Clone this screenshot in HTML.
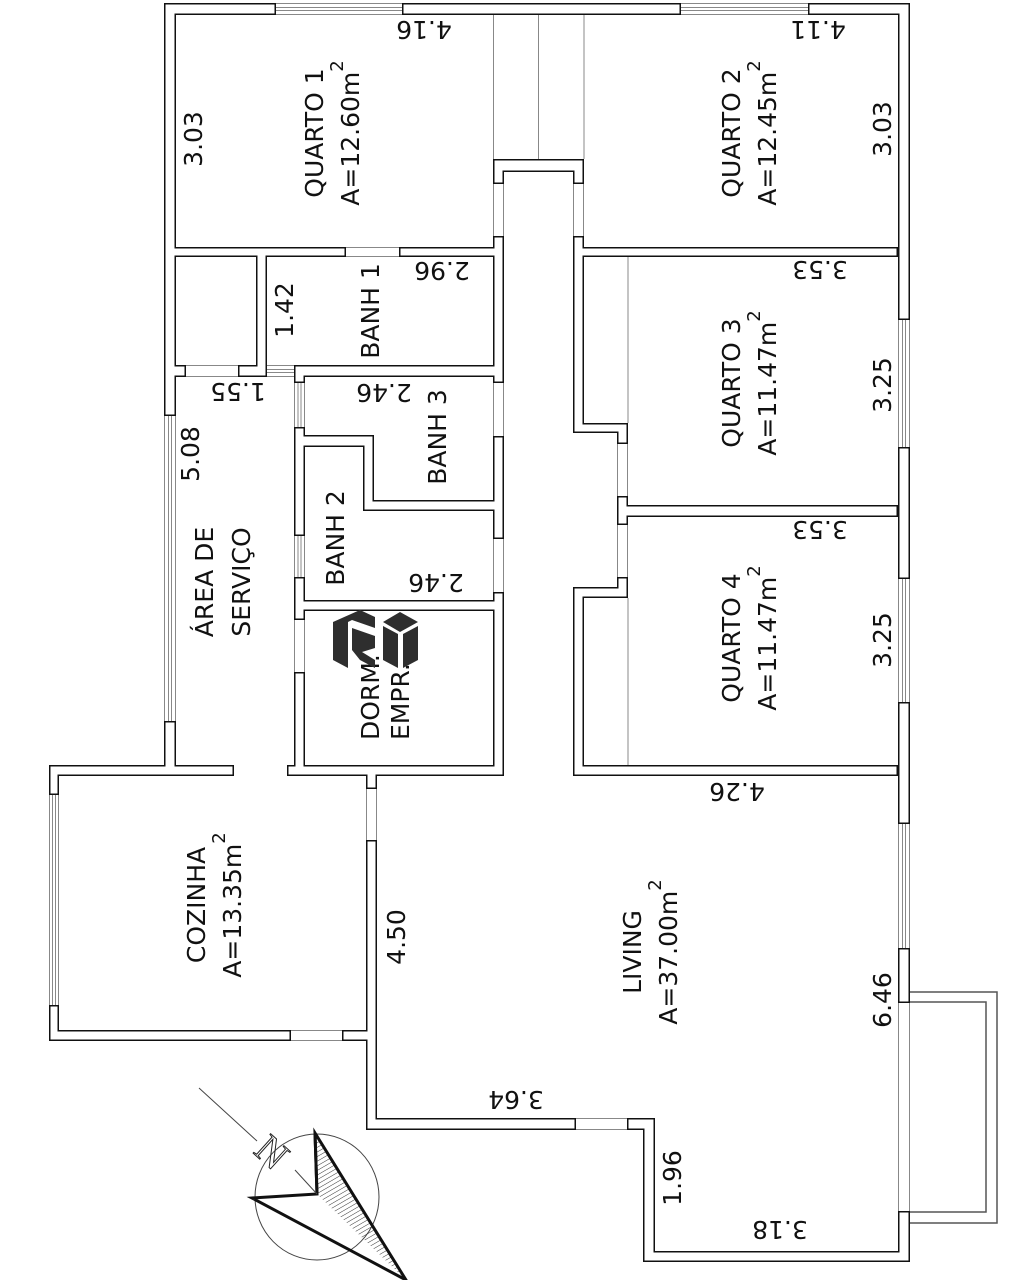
<!DOCTYPE html>
<html><head><meta charset="utf-8"><style>
html,body{margin:0;padding:0;background:#fff;}
svg{display:block}
text{font-family:"DejaVu Sans","Liberation Sans",sans-serif;font-size:25px;fill:#111}
</style></head><body>
<svg width="1024" height="1280" viewBox="0 0 1024 1280" xmlns="http://www.w3.org/2000/svg">
<defs>
<pattern id="hatch" width="4" height="4" patternUnits="userSpaceOnUse" patternTransform="rotate(60)">
<line x1="0" y1="0" x2="0" y2="4" stroke="#333" stroke-width="1"/>
</pattern>
</defs>
<rect width="1024" height="1280" fill="#fff"/>
<g stroke="#888" stroke-width="1" fill="none">
<line x1="493.5" y1="15" x2="493.5" y2="159"/>
<line x1="538.5" y1="15" x2="538.5" y2="159"/>
<line x1="584" y1="15" x2="584" y2="159"/>
<line x1="628" y1="257" x2="628" y2="423"/>
<line x1="628" y1="598" x2="628" y2="765"/>
<path d="M164.5 416V721M175.5 416V721M168.5 416V721M171.5 416V721"/>
<path d="M898.5 320V447M909.5 320V447M902.5 320V447M905.5 320V447"/>
<path d="M898.5 579V702M909.5 579V702M902.5 579V702M905.5 579V702"/>
<path d="M898.5 824V948M909.5 824V948M902.5 824V948M905.5 824V948"/>
<path d="M49.5 795V1005M58.5 795V1005M52.5 795V1005M55.5 795V1005"/>
<path d="M294.5 383V427M304.5 383V427M298 383V427M301 383V427"/>
<path d="M294.5 536V577M304.5 536V577M298 536V577M301 536V577"/>
<path d="M276 3.5H402M276 14.5H402M276 7.5H402M276 10.5H402"/>
<path d="M681 3.5H808M681 14.5H808M681 7.5H808M681 10.5H808"/>
<path d="M267 365.5H294M267 376.5H294M267 369.5H294M267 372.5H294"/>
<path d="M294.5 620V672M304.5 620V672"/>
<path d="M898.5 1003V1211M909.5 1003V1211"/>
<path d="M366.5 789V840M376.5 789V840"/>
<path d="M493.5 184V236M503.5 184V236M493.5 383V436M503.5 383V436M493.5 539V592M503.5 539V592"/>
<path d="M573.5 184V236M583.5 184V236"/>
<path d="M617.5 444V496M627.5 444V496M617.5 525V577M627.5 525V577"/>
<path d="M291 1030.5H342M291 1040.5H342"/>
<path d="M576 1118.5H627M576 1129.5H627"/>
<path d="M346 247.5H399M346 256.5H399"/>
<path d="M186 365.5H238M186 376.5H238"/>
</g>
<g stroke="#555" stroke-width="1.5" fill="none">
<path d="M909 992H997V1223H909"/>
<path d="M909 1002H986V1212H909"/>
</g>
<g fill="#111">
<rect x="164" y="3" width="12" height="413"/>
<rect x="164" y="3" width="112" height="12"/>
<rect x="402" y="3" width="279" height="12"/>
<rect x="808" y="3" width="102" height="12"/>
<rect x="898" y="3" width="12" height="317"/>
<rect x="898" y="447" width="12" height="132"/>
<rect x="898" y="702" width="12" height="122"/>
<rect x="898" y="948" width="12" height="55"/>
<rect x="898" y="1211" width="12" height="51"/>
<rect x="643" y="1251" width="267" height="11"/>
<rect x="643" y="1118" width="12" height="144"/>
<rect x="366" y="1118" width="210" height="12"/>
<rect x="627" y="1118" width="28" height="12"/>
<rect x="366" y="840" width="11" height="290"/>
<rect x="49" y="1030" width="242" height="11"/>
<rect x="342" y="1030" width="35" height="11"/>
<rect x="49" y="765" width="10" height="30"/>
<rect x="49" y="1005" width="10" height="36"/>
<rect x="49" y="765" width="185" height="11"/>
<rect x="164" y="721" width="12" height="55"/>
<rect x="287" y="765" width="217" height="11"/>
<rect x="366" y="765" width="11" height="24"/>
<rect x="294" y="427" width="11" height="109"/>
<rect x="294" y="577" width="11" height="43"/>
<rect x="294" y="672" width="11" height="104"/>
<rect x="294" y="600" width="210" height="11"/>
<rect x="493" y="236" width="11" height="147"/>
<rect x="493" y="436" width="11" height="103"/>
<rect x="493" y="592" width="11" height="184"/>
<rect x="294" y="365" width="210" height="12"/>
<rect x="294" y="365" width="11" height="18"/>
<rect x="294" y="435" width="80" height="12"/>
<rect x="363" y="435" width="11" height="76"/>
<rect x="363" y="500" width="141" height="11"/>
<rect x="164" y="247" width="182" height="10"/>
<rect x="399" y="247" width="105" height="10"/>
<rect x="256" y="247" width="11" height="130"/>
<rect x="164" y="365" width="22" height="12"/>
<rect x="238" y="365" width="29" height="12"/>
<rect x="573" y="247" width="325" height="10"/>
<rect x="573" y="236" width="11" height="197"/>
<rect x="573" y="423" width="55" height="10"/>
<rect x="617" y="423" width="11" height="21"/>
<rect x="617" y="496" width="11" height="29"/>
<rect x="617" y="505" width="281" height="12"/>
<rect x="573" y="587" width="55" height="11"/>
<rect x="617" y="577" width="11" height="21"/>
<rect x="573" y="587" width="11" height="189"/>
<rect x="573" y="765" width="325" height="11"/>
<rect x="493" y="159" width="91" height="13"/>
<rect x="493" y="159" width="11" height="25"/>
<rect x="573" y="159" width="11" height="25"/>
</g>
<g fill="#fff">
<rect x="165.5" y="4.5" width="9" height="410"/>
<rect x="165.5" y="4.5" width="109" height="9"/>
<rect x="403.5" y="4.5" width="276" height="9"/>
<rect x="809.5" y="4.5" width="99" height="9"/>
<rect x="899.5" y="4.5" width="9" height="314"/>
<rect x="899.5" y="448.5" width="9" height="129"/>
<rect x="899.5" y="703.5" width="9" height="119"/>
<rect x="899.5" y="949.5" width="9" height="52"/>
<rect x="899.5" y="1212.5" width="9" height="48"/>
<rect x="644.5" y="1252.5" width="264" height="8"/>
<rect x="644.5" y="1119.5" width="9" height="141"/>
<rect x="367.5" y="1119.5" width="207" height="9"/>
<rect x="628.5" y="1119.5" width="25" height="9"/>
<rect x="367.5" y="841.5" width="8" height="287"/>
<rect x="50.5" y="1031.5" width="239" height="8"/>
<rect x="343.5" y="1031.5" width="32" height="8"/>
<rect x="50.5" y="766.5" width="7" height="27"/>
<rect x="50.5" y="1006.5" width="7" height="33"/>
<rect x="50.5" y="766.5" width="182" height="8"/>
<rect x="165.5" y="722.5" width="9" height="52"/>
<rect x="288.5" y="766.5" width="214" height="8"/>
<rect x="367.5" y="766.5" width="8" height="21"/>
<rect x="295.5" y="428.5" width="8" height="106"/>
<rect x="295.5" y="578.5" width="8" height="40"/>
<rect x="295.5" y="673.5" width="8" height="101"/>
<rect x="295.5" y="601.5" width="207" height="8"/>
<rect x="494.5" y="237.5" width="8" height="144"/>
<rect x="494.5" y="437.5" width="8" height="100"/>
<rect x="494.5" y="593.5" width="8" height="181"/>
<rect x="295.5" y="366.5" width="207" height="9"/>
<rect x="295.5" y="366.5" width="8" height="15"/>
<rect x="295.5" y="436.5" width="77" height="9"/>
<rect x="364.5" y="436.5" width="8" height="73"/>
<rect x="364.5" y="501.5" width="138" height="8"/>
<rect x="165.5" y="248.5" width="179" height="7"/>
<rect x="400.5" y="248.5" width="102" height="7"/>
<rect x="257.5" y="248.5" width="8" height="127"/>
<rect x="165.5" y="366.5" width="19" height="9"/>
<rect x="239.5" y="366.5" width="26" height="9"/>
<rect x="574.5" y="248.5" width="322" height="7"/>
<rect x="574.5" y="237.5" width="8" height="194"/>
<rect x="574.5" y="424.5" width="52" height="7"/>
<rect x="618.5" y="424.5" width="8" height="18"/>
<rect x="618.5" y="497.5" width="8" height="26"/>
<rect x="618.5" y="506.5" width="278" height="9"/>
<rect x="574.5" y="588.5" width="52" height="8"/>
<rect x="618.5" y="578.5" width="8" height="18"/>
<rect x="574.5" y="588.5" width="8" height="186"/>
<rect x="574.5" y="766.5" width="322" height="8"/>
<rect x="494.5" y="160.5" width="88" height="10"/>
<rect x="494.5" y="160.5" width="8" height="22"/>
<rect x="574.5" y="160.5" width="8" height="22"/>
</g>
<g text-anchor="middle">
<g transform="translate(333,133) rotate(-90)"><text x="0" y="-10">QUARTO 1</text><text x="0" y="26">A=12.60m<tspan font-size="18" dy="-16">2</tspan></text></g>
<g transform="translate(750,133) rotate(-90)"><text x="0" y="-10">QUARTO 2</text><text x="0" y="26">A=12.45m<tspan font-size="18" dy="-16">2</tspan></text></g>
<g transform="translate(750,383) rotate(-90)"><text x="0" y="-10">QUARTO 3</text><text x="0" y="26">A=11.47m<tspan font-size="18" dy="-16">2</tspan></text></g>
<g transform="translate(750,638) rotate(-90)"><text x="0" y="-10">QUARTO 4</text><text x="0" y="26">A=11.47m<tspan font-size="18" dy="-16">2</tspan></text></g>
<g transform="translate(215,905) rotate(-90)"><text x="0" y="-10">COZINHA</text><text x="0" y="26">A=13.35m<tspan font-size="18" dy="-16">2</tspan></text></g>
<g transform="translate(651,952) rotate(-90)"><text x="0" y="-10">LIVING</text><text x="0" y="26">A=37.00m<tspan font-size="18" dy="-16">2</tspan></text></g>
<g transform="translate(223,582) rotate(-90)"><text x="0" y="-10">ÁREA DE</text><text x="0" y="27">SERVIÇO</text></g>
<g transform="translate(370,311) rotate(-90)"><text x="0" y="9">BANH 1</text></g>
<g transform="translate(437,437) rotate(-90)"><text x="0" y="9">BANH 3</text></g>
<g transform="translate(335,538) rotate(-90)"><text x="0" y="9">BANH 2</text></g>
</g>
<g transform="translate(370,740) rotate(-90)"><text x="0" y="9">DORM.</text></g>
<g transform="translate(400,740) rotate(-90)"><text x="0" y="9">EMPR.</text></g>
<g text-anchor="middle">
<g transform="translate(193,139) rotate(-90)"><text y="9">3.03</text></g>
<g transform="translate(284,310) rotate(-90)"><text y="9">1.42</text></g>
<g transform="translate(190,454) rotate(-90)"><text y="9">5.08</text></g>
<g transform="translate(882,129) rotate(-90)"><text y="9">3.03</text></g>
<g transform="translate(882,385) rotate(-90)"><text y="9">3.25</text></g>
<g transform="translate(882,640) rotate(-90)"><text y="9">3.25</text></g>
<g transform="translate(396,937) rotate(-90)"><text y="9">4.50</text></g>
<g transform="translate(882,1000) rotate(-90)"><text y="9">6.46</text></g>
<g transform="translate(672,1178) rotate(-90)"><text y="9">1.96</text></g>
<g transform="translate(424,30) rotate(180)"><text y="9">4.16</text></g>
<g transform="translate(442,271) rotate(180)"><text y="9">2.96</text></g>
<g transform="translate(238,392) rotate(180)"><text y="9">1.55</text></g>
<g transform="translate(384,393) rotate(180)"><text y="9">2.46</text></g>
<g transform="translate(436,583) rotate(180)"><text y="9">2.46</text></g>
<g transform="translate(818,30) rotate(180)"><text y="9">4.11</text></g>
<g transform="translate(820,270) rotate(180)"><text y="9">3.53</text></g>
<g transform="translate(820,530) rotate(180)"><text y="9">3.53</text></g>
<g transform="translate(737,792) rotate(180)"><text y="9">4.26</text></g>
<g transform="translate(516,1100) rotate(180)"><text y="9">3.64</text></g>
<g transform="translate(780,1230) rotate(180)"><text y="9">3.18</text></g>
</g>
<g fill="#2e2e2e">
<polygon points="333,622 360,610 375,617 375,628 352,620 348,622 348,668 333,660"/>
<polygon points="352,628 375,636 375,648 362,652 375,660 375,668 360,660 352,650"/>
<polygon points="383,622 400,612 418,622 400,632"/>
<polygon points="383,626 398,634 398,668 383,660"/>
<polygon points="403,634 418,626 418,660 403,668"/>
</g>
<g fill="none" stroke="#444">
<ellipse cx="317" cy="1197" rx="62" ry="63" stroke-width="1"/>
<line x1="199" y1="1088" x2="257" y2="1141" stroke-width="1"/>
<polygon points="315,1133 317,1194 406,1280" fill="url(#hatch)" stroke="none"/>
<path d="M315 1133L406 1280L252 1198L317 1194Z" stroke="#111" stroke-width="3"/>
<line x1="315" y1="1133" x2="317" y2="1194" stroke="#111" stroke-width="3"/>
<line x1="295" y1="1170" x2="317" y2="1194" stroke-width="1"/>
</g>
<text transform="translate(272,1152) rotate(42)" text-anchor="middle" dominant-baseline="central" style="font-family:'Liberation Serif',serif;font-size:40px;fill:none;stroke:#222;stroke-width:1">N</text>
</svg>
</body></html>
